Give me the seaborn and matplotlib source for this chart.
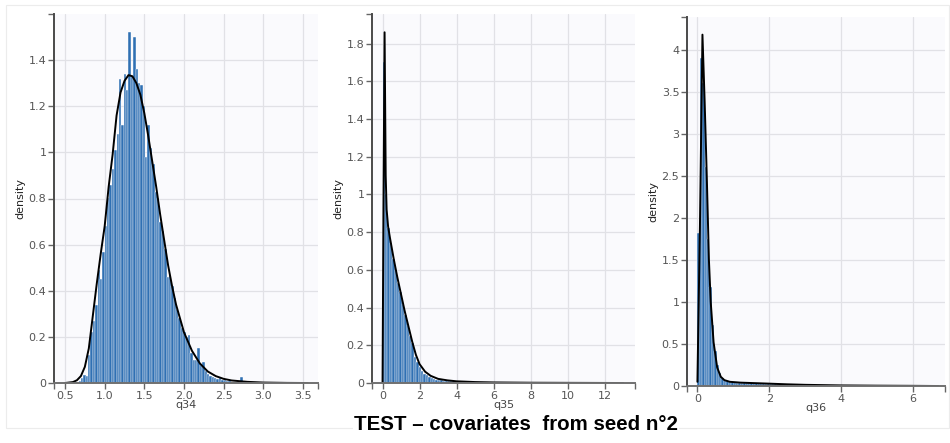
import numpy as np
import pandas as pd
import matplotlib
matplotlib.use("Agg")
import matplotlib.pyplot as plt
import seaborn as sns
from matplotlib.ticker import FuncFormatter
from matplotlib.patches import Rectangle

sns.set_theme(style="whitegrid")
plt.rcParams['font.family'] = ['DejaVu Sans']

# ---------------- q34 ----------------
q34_bin_start, q34_bin_width = 0.55, 0.03
q34_heights = [
    0.000, 0.000, 0.003, 0.006, 0.010, 0.020, 0.035, 0.030, 0.120, 0.220,
    0.270, 0.340, 0.490, 0.450, 0.570, 0.680, 0.800, 0.860, 0.930, 1.010,
    1.080, 1.320, 1.120, 1.340, 1.270, 1.520, 1.330, 1.500, 1.360, 1.300,
    1.290, 1.200, 0.980, 1.120, 1.020, 0.950, 0.830, 0.800, 0.700, 0.660,
    0.580, 0.460, 0.470, 0.420, 0.370, 0.320, 0.280, 0.240, 0.220, 0.200,
    0.210, 0.130, 0.100, 0.100, 0.150, 0.080, 0.090, 0.050, 0.040, 0.030,
    0.025, 0.020, 0.018, 0.020, 0.012, 0.015, 0.010, 0.008, 0.006, 0.005,
    0.004, 0.003, 0.026, 0.004, 0.003, 0.002, 0.002, 0.002, 0.001, 0.001,
    0.001,
]
q34_curve_x = [0.50, 0.60, 0.65, 0.70, 0.75, 0.80, 0.85, 0.90, 0.95, 1.00,
               1.05, 1.10, 1.15, 1.20, 1.25, 1.30, 1.35, 1.40, 1.45, 1.50,
               1.55, 1.60, 1.65, 1.70, 1.75, 1.80, 1.85, 1.90, 1.95, 2.00,
               2.10, 2.20, 2.30, 2.40, 2.50, 2.60, 2.80, 3.00, 3.30, 3.56]
q34_curve_y = [0.000, 0.004, 0.012, 0.030, 0.070, 0.150, 0.290, 0.430, 0.560, 0.680,
               0.850, 0.990, 1.160, 1.260, 1.310, 1.335, 1.330, 1.300, 1.250, 1.170,
               1.070, 0.960, 0.850, 0.730, 0.620, 0.510, 0.420, 0.340, 0.280, 0.220,
               0.140, 0.085, 0.050, 0.030, 0.018, 0.011, 0.005, 0.002, 0.0005, 0.000]
q34_xticks = [0.5, 1.0, 1.5, 2.0, 2.5, 3.0, 3.5]
q34_yticks = [0, 0.2, 0.4, 0.6, 0.8, 1.0, 1.2, 1.4]

# ---------------- q35 ----------------
q35_bin_start, q35_bin_width = 0.0, 0.13
q35_heights = [
    1.700, 1.000, 0.820, 0.740, 0.660, 0.600, 0.530, 0.480, 0.420, 0.360,
    0.310, 0.250, 0.210, 0.140, 0.110, 0.085, 0.065, 0.050, 0.040, 0.032,
    0.026, 0.022, 0.018, 0.016, 0.014, 0.013, 0.012, 0.011, 0.010, 0.009,
    0.009, 0.008, 0.008, 0.007, 0.007, 0.006, 0.006, 0.005, 0.005, 0.005,
    0.004, 0.004, 0.004,
]
q35_curve_x = [0.00, 0.05, 0.11, 0.17, 0.22, 0.30, 0.40, 0.60, 0.80, 1.00,
               1.20, 1.40, 1.60, 1.80, 2.00, 2.30, 2.60, 3.00, 3.50, 4.00,
               5.00, 6.00, 8.00, 10.0, 13.0]
q35_curve_y = [0.000, 0.950, 1.860, 1.100, 0.920, 0.830, 0.770, 0.660, 0.560, 0.470,
               0.380, 0.300, 0.220, 0.150, 0.100, 0.060, 0.038, 0.022, 0.014, 0.009,
               0.005, 0.003, 0.0015, 0.0008, 0.000]
q35_xticks = [0, 2, 4, 6, 8, 10, 12]
q35_yticks = [0, 0.2, 0.4, 0.6, 0.8, 1.0, 1.2, 1.4, 1.6, 1.8]

# ---------------- q36 ----------------
q36_bin_start, q36_bin_width = 0.0, 0.067
q36_heights = [
    1.820, 3.900, 3.600, 2.600, 1.750, 1.180, 0.720, 0.420, 0.250, 0.150,
    0.100, 0.070, 0.055, 0.048, 0.045, 0.042, 0.040, 0.039, 0.038, 0.037,
    0.036, 0.035, 0.034, 0.033, 0.032, 0.031, 0.030, 0.029, 0.028, 0.027,
    0.026, 0.025, 0.024, 0.023, 0.022, 0.021, 0.020, 0.019, 0.018, 0.017,
    0.016, 0.015, 0.014, 0.013, 0.012, 0.011, 0.010, 0.009, 0.008, 0.008,
]
q36_curve_x = [0.00, 0.07, 0.14, 0.20, 0.26, 0.32, 0.37, 0.45, 0.55, 0.65,
               0.75, 0.90, 1.20, 1.60, 2.00, 2.50, 3.00, 4.00, 5.00, 6.00, 6.70]
q36_curve_y = [0.050, 1.900, 4.180, 3.400, 2.500, 1.500, 1.000, 0.520, 0.220, 0.110,
               0.070, 0.050, 0.040, 0.034, 0.028, 0.020, 0.014, 0.007, 0.004, 0.002, 0.000]
q36_xticks = [0, 2, 4, 6]
q36_yticks = [0, 0.5, 1.0, 1.5, 2.0, 2.5, 3.0, 3.5, 4.0]

panels = [
    dict(name="q34", start=q34_bin_start, width=q34_bin_width, heights=q34_heights,
         cx=q34_curve_x, cy=q34_curve_y, xticks=q34_xticks, yticks=q34_yticks,
         xlim=(0.361, 3.69), ylim=(0, 1.60), xfmt="{:.1f}",
         box=(54, 318, 14, 383)),
    dict(name="q35", start=q35_bin_start, width=q35_bin_width, heights=q35_heights,
         cx=q35_curve_x, cy=q35_curve_y, xticks=q35_xticks, yticks=q35_yticks,
         xlim=(-0.57, 13.64), ylim=(0, 1.957), xfmt="{:g}",
         box=(372, 635, 14, 383)),
    dict(name="q36", start=q36_bin_start, width=q36_bin_width, heights=q36_heights,
         cx=q36_curve_x, cy=q36_curve_y, xticks=q36_xticks, yticks=q36_yticks,
         xlim=(-0.29, 6.89), ylim=(0, 4.39), xfmt="{:g}",
         box=(687, 945, 17, 386)),
]

W, H = 950, 443
fig = plt.figure(figsize=(W / 100, H / 100), dpi=100)
fig.patch.set_facecolor("white")

# faint outer frame around the panels
fig.patches.append(Rectangle((6 / W, 1 - 428 / H), 943 / W, 423 / H,
                             transform=fig.transFigure, fill=False,
                             edgecolor="#ececec", linewidth=0.8, zorder=0))

BAR = "#2f70b3"
for p in panels:
    l, r, t, b = p["box"]
    ax = fig.add_axes([l / W, 1 - b / H, (r - l) / W, (b - t) / H])
    ax.set_facecolor("#fafafd")
    ax.set_axisbelow(True)

    n = len(p["heights"])
    edges = [p["start"] + p["width"] * i for i in range(n + 1)]
    hist_df = pd.DataFrame({
        "value": [p["start"] + p["width"] * (i + 0.5) for i in range(n)],
        "density": p["heights"],
    })
    sns.histplot(data=hist_df, x="value", weights="density", bins=edges,
                 stat="count", color=BAR, edgecolor="white", linewidth=0.3,
                 alpha=1.0, ax=ax)
    curve_df = pd.DataFrame({"value": p["cx"], "density": p["cy"]})
    sns.lineplot(data=curve_df, x="value", y="density", color="black",
                 linewidth=1.4, ax=ax)

    ax.set_xlim(*p["xlim"])
    ax.set_ylim(*p["ylim"])
    ax.set_xticks(p["xticks"])
    ax.set_yticks(p["yticks"])
    ax.xaxis.set_major_formatter(FuncFormatter(lambda v, _, f=p["xfmt"]: f.format(v)))
    ax.yaxis.set_major_formatter(FuncFormatter(lambda v, _: "{:g}".format(round(v, 2))))
    # end caps on the axis lines
    ax.set_xticks(list(p["xlim"]), minor=True)
    ax.set_yticks([p["ylim"][1]], minor=True)

    ax.grid(True, which="major", color="#e1e1e6", linewidth=0.9)
    ax.grid(False, which="minor")
    for side in ("top", "right"):
        ax.spines[side].set_visible(False)
    ax.spines["left"].set_color("#4a4a4a")
    ax.spines["left"].set_linewidth(1.4)
    ax.spines["bottom"].set_color("#707070")
    ax.spines["bottom"].set_linewidth(1.4)
    ax.tick_params(which="both", direction="out", length=4, width=1,
                   color="#666666", labelsize=8, labelcolor="#555555",
                   bottom=True, left=True, pad=1.5)

    ax.set_xlabel(p["name"], fontsize=8, color="#444444")
    ax.set_ylabel("density", fontsize=8, color="#222222")
    ax.xaxis.label.set_va("top")
    ax.xaxis.set_label_coords(0.5, -17 / (b - t))
    ax.yaxis.label.set_va("center")
    ax.yaxis.set_label_coords(-34 / (r - l), 0.5)

fig.text(516 / W, 1 - 425 / H, "TEST \u2013 covariates  from seed n\u00b02",
         ha="center", va="center", fontsize=14.8, fontweight="bold",
         family=["Liberation Sans", "DejaVu Sans"], color="black",
         bbox=dict(facecolor="white", edgecolor="none", pad=1))

fig.savefig("out.png", dpi=100, facecolor="white")
